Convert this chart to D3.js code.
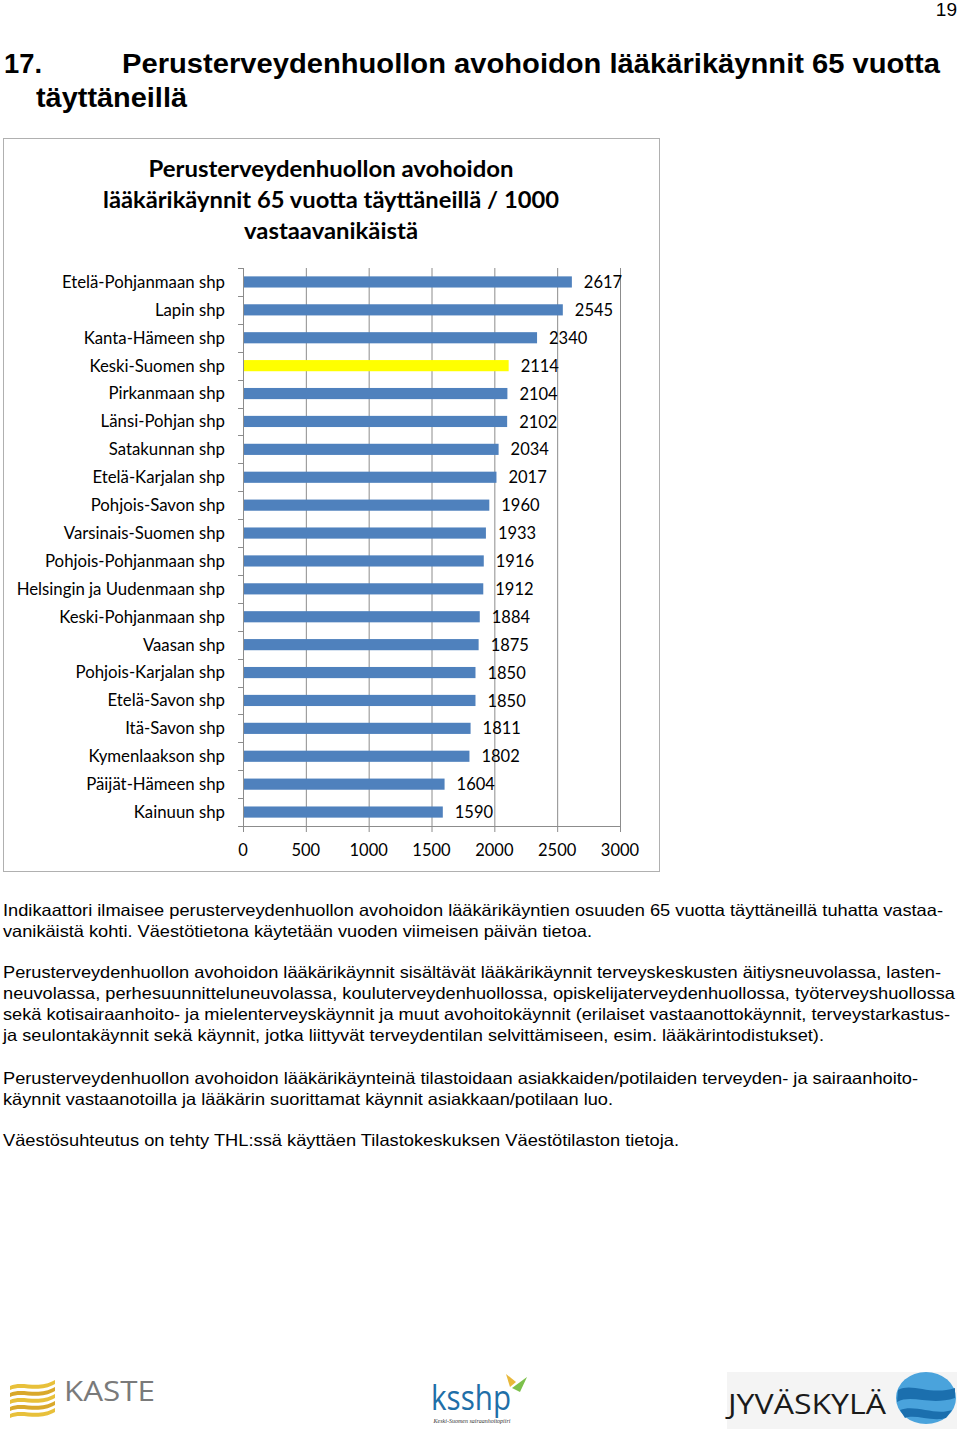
<!DOCTYPE html>
<html><head><meta charset="utf-8">
<script src="https://cdn.jsdelivr.net/npm/d3@7"></script>
<style>body{margin:0;background:#fff}svg{display:block}</style>
</head><body>
<script>
const categories = ["Etelä-Pohjanmaan shp","Lapin shp","Kanta-Hämeen shp","Keski-Suomen shp","Pirkanmaan shp","Länsi-Pohjan shp","Satakunnan shp","Etelä-Karjalan shp","Pohjois-Savon shp","Varsinais-Suomen shp","Pohjois-Pohjanmaan shp","Helsingin ja Uudenmaan shp","Keski-Pohjanmaan shp","Vaasan shp","Pohjois-Karjalan shp","Etelä-Savon shp","Itä-Savon shp","Kymenlaakson shp","Päijät-Hämeen shp","Kainuun shp"];
const values = [2617,2545,2340,2114,2104,2102,2034,2017,1960,1933,1916,1912,1884,1875,1850,1850,1811,1802,1604,1590];
const highlighted = ["Keski-Suomen shp"];
const xTicks = [0,500,1000,1500,2000,2500,3000];
const chartTitle = ["Perusterveydenhuollon avohoidon","lääkärikäynnit 65 vuotta täyttäneillä / 1000","vastaavanikäistä"];
const heading = ["17.","Perusterveydenhuollon avohoidon lääkärikäynnit 65 vuotta","täyttäneillä"];
const paragraphs = [
 ["Indikaattori ilmaisee perusterveydenhuollon avohoidon lääkärikäyntien osuuden 65 vuotta täyttäneillä tuhatta vastaa-","vanikäistä kohti. Väestötietona käytetään vuoden viimeisen päivän tietoa."],
 ["Perusterveydenhuollon avohoidon lääkärikäynnit sisältävät lääkärikäynnit terveyskeskusten äitiysneuvolassa, lasten-","neuvolassa, perhesuunnitteluneuvolassa, kouluterveydenhuollossa, opiskelijaterveydenhuollossa, työterveyshuollossa","sekä kotisairaanhoito- ja mielenterveyskäynnit ja muut avohoitokäynnit (erilaiset vastaanottokäynnit, terveystarkastus-","ja seulontakäynnit sekä käynnit, jotka liittyvät terveydentilan selvittämiseen, esim. lääkärintodistukset)."],
 ["Perusterveydenhuollon avohoidon lääkärikäynteinä tilastoidaan asiakkaiden/potilaiden terveyden- ja sairaanhoito-","käynnit vastaanotoilla ja lääkärin suorittamat käynnit asiakkaan/potilaan luo."],
 ["Väestösuhteutus on tehty THL:ssä käyttäen Tilastokeskuksen Väestötilaston tietoja."]
];

const W=960,H=1429;
const svg=d3.select("body").append("svg").attr("width",W).attr("height",H);

// page number
svg.append("text").attr("x",957).attr("y",16).attr("text-anchor","end")
 .attr("font-family","Liberation Sans, Arial").attr("font-size",19).attr("fill","#000").text("19");

// heading
const hf="Liberation Sans, Arial";
svg.append("text").attr("x",4).attr("y",73).attr("font-family",hf).attr("font-weight","bold").attr("font-size",27)
 .attr("textLength",38).attr("lengthAdjust","spacingAndGlyphs").text(heading[0]);
svg.append("text").attr("x",122).attr("y",73).attr("font-family",hf).attr("font-weight","bold").attr("font-size",27)
 .attr("textLength",818).attr("lengthAdjust","spacingAndGlyphs").text(heading[1]);
svg.append("text").attr("x",36).attr("y",107).attr("font-family",hf).attr("font-weight","bold").attr("font-size",27)
 .attr("textLength",151).attr("lengthAdjust","spacingAndGlyphs").text(heading[2]);

// chart frame
svg.append("rect").attr("x",3.5).attr("y",138.5).attr("width",656).attr("height",733)
 .attr("fill","#fff").attr("stroke","#b0b0b0").attr("stroke-width",1);

const cf="Lato, 'Open Sans', sans-serif";
const titleW=[365,456,174];
chartTitle.forEach((t,i)=>{
 svg.append("text").attr("x",331).attr("y",177+i*31).attr("text-anchor","middle")
  .attr("font-family",cf).attr("font-weight","bold").attr("font-size",22).attr("fill","#000")
  .attr("textLength",titleW[i]).attr("lengthAdjust","spacingAndGlyphs").text(t);
});

// scales
const x=d3.scaleLinear().domain([0,3000]).range([243,620]);
const y=d3.scaleBand().domain(categories).range([268,826]).paddingInner(0.6).paddingOuter(0.3);
const step=y.step();

// gridlines
svg.append("g").selectAll("line").data(xTicks.slice(1)).join("line")
 .attr("x1",d=>x(d)+0.5).attr("x2",d=>x(d)+0.5).attr("y1",268).attr("y2",826)
 .attr("stroke","#8c8c8c").attr("stroke-width",1);

// bars
svg.append("g").selectAll("rect").data(categories).join("rect")
 .attr("x",x(0)).attr("y",d=>y(d)).attr("width",(d,i)=>x(values[i])-x(0)).attr("height",y.bandwidth())
 .attr("fill",d=>highlighted.includes(d)?"#ffff00":"#4f81bd");

// left axis line + ticks at band boundaries
svg.append("line").attr("x1",243.5).attr("x2",243.5).attr("y1",268).attr("y2",826).attr("stroke","#8c8c8c");
const bounds=d3.range(categories.length+1).map(i=>268+i*step);
svg.append("g").selectAll("line").data(bounds).join("line")
 .attr("x1",238).attr("x2",243).attr("y1",d=>Math.round(d)+0.5).attr("y2",d=>Math.round(d)+0.5).attr("stroke","#8c8c8c");

// bottom axis
svg.append("line").attr("x1",243).attr("x2",620.5).attr("y1",826.5).attr("y2",826.5).attr("stroke","#8c8c8c");
svg.append("g").selectAll("line").data(xTicks).join("line")
 .attr("x1",d=>x(d)+0.5).attr("x2",d=>x(d)+0.5).attr("y1",826).attr("y2",832).attr("stroke","#8c8c8c");
svg.append("g").selectAll("text").data(xTicks).join("text")
 .attr("x",d=>x(d)).attr("y",856).attr("text-anchor","middle")
 .attr("font-family",cf).attr("font-size",16.5).attr("fill","#000").text(d=>d);

// category labels
svg.append("g").selectAll("text").data(categories).join("text")
 .attr("x",225).attr("y",d=>y(d)+y.bandwidth()/2).attr("dy","0.35em").attr("text-anchor","end")
 .attr("font-family",cf).attr("font-size",16.8).attr("fill","#000").text(d=>d);

// data labels
svg.append("g").selectAll("text").data(categories).join("text")
 .attr("x",(d,i)=>x(values[i])+12).attr("y",d=>y(d)+y.bandwidth()/2).attr("dy","0.37em")
 .attr("font-family",cf).attr("font-size",16.5).attr("fill","#000").text((d,i)=>values[i]);

// body text
const bf="Liberation Sans, Arial";
const paraY=[916,978,1084,1146];
const widths=[[940,589],[938,952,947,821],[915,610],[676]];
paragraphs.forEach((p,pi)=>{
 p.forEach((line,li)=>{
  svg.append("text").attr("x",3).attr("y",paraY[pi]+li*21)
   .attr("font-family",bf).attr("font-size",16.5).attr("fill","#000")
   .attr("textLength",widths[pi][li]).attr("lengthAdjust","spacingAndGlyphs").text(line);
 });
});

// logos
// KASTE
const kg=svg.append("g");
[0,1,2,3,4].forEach(i=>{
 const y0=1382+i*7;
 kg.append("path").attr("d",`M10 ${y0+4} C 22 ${y0-2}, 38 ${y0+8}, 55 ${y0-2} L 55 ${y0+2} C 38 ${y0+12}, 22 ${y0+2}, 10 ${y0+8} Z`)
  .attr("fill",i%2?"#d9a82a":"#e8c03a");
});
kg.append("text").attr("x",64).attr("y",1401).attr("font-family","'Open Sans', sans-serif").attr("font-size",27)
 .attr("fill","#7a7a7a").attr("textLength",91).attr("lengthAdjust","spacingAndGlyphs").text("KASTE");
// ksshp
const ks=svg.append("g");
ks.append("text").attr("x",431).attr("y",1410).attr("font-family","'Open Sans', sans-serif").attr("font-size",34)
 .attr("fill","#1f6fa8").attr("textLength",80).attr("lengthAdjust","spacingAndGlyphs").text("ksshp");
ks.append("path").attr("d","M510 1387 L506 1374 L516 1382 Z").attr("fill","#e8b83a");
ks.append("path").attr("d","M512 1388 L527 1377 L520 1392 Z").attr("fill","#7cc04b");
ks.append("text").attr("x",472).attr("y",1423).attr("text-anchor","middle").attr("font-family","Liberation Serif, serif")
 .attr("font-style","italic").attr("font-size",6).attr("fill","#333").text("Keski-Suomen sairaanhoitopiiri");
// Jyväskylä
const jg=svg.append("g");
jg.append("rect").attr("x",727).attr("y",1372).attr("width",230).attr("height",57).attr("fill","#f4f4f4");
jg.append("text").attr("x",728).attr("y",1414).attr("font-family","'Open Sans', sans-serif").attr("font-size",28)
 .attr("fill","#1a1a1a").attr("textLength",158).attr("lengthAdjust","spacingAndGlyphs").text("JYVÄSKYLÄ");
jg.append("ellipse").attr("cx",926).attr("cy",1398).attr("rx",30).attr("ry",26).attr("fill","#4aa3dc");
jg.append("path").attr("d","M898 1390 C 912 1382, 930 1396, 955 1388 L 955 1398 C 930 1406, 912 1394, 897 1402 Z").attr("fill","#1b6fae");
jg.append("path").attr("d","M900 1410 C 915 1404, 935 1416, 952 1410 L 946 1418 C 932 1422, 915 1414, 905 1418 Z").attr("fill","#1b6fae");
</script>
</body></html>
